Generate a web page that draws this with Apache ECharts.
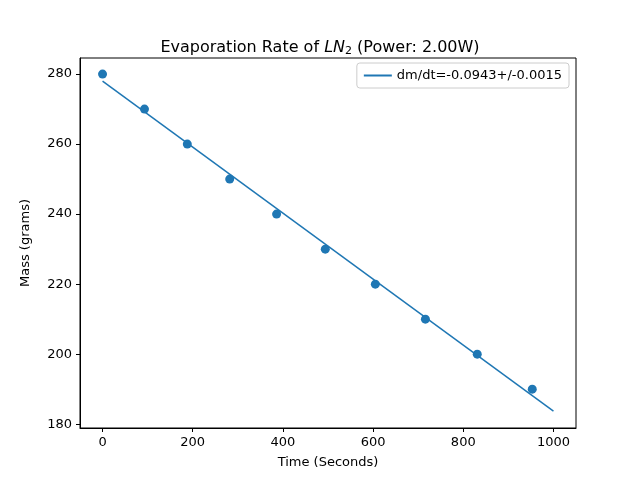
<!DOCTYPE html>
<html>
<head>
  <meta charset="utf-8">
</head>
<body style="height: 100%; margin: 0">
  <div id="container" style="width: 640px; height: 480px"></div>
  <script src="https://cdn.jsdelivr.net/npm/echarts@6/dist/echarts.min.js"></script>
  <script>
    // measured points
    var times = [0, 93, 188, 282, 386, 494, 605, 716, 831, 953];
    var masses = [280, 270, 260, 250, 240, 230, 220, 210, 200, 190];
    // fitted line end points
    var fitX = [0, 1000];
    var fitY = [278.0, 183.7];
    var xTicks = [0, 200, 400, 600, 800, 1000];
    var yTicks = [180, 200, 220, 240, 260, 280];

    var chart = echarts.init(document.getElementById('container'));
    var font = 'DejaVu Sans';
    var blue = '#1f77b4';

    var option = {
      animation: false,
      textStyle: { fontFamily: font },
      title: {
        text: '{n|Evaporation Rate of }{i|LN}{s|2}{n| (Power: 2.00W)}',
        left: 'center',
        top: 33,
        textStyle: {
          fontWeight: 'normal',
          rich: {
            n: { fontFamily: font, fontSize: 16, fontWeight: 'normal', color: '#000' },
            i: { fontFamily: font, fontSize: 16, fontWeight: 'normal', fontStyle: 'italic', color: '#000' },
            s: { fontFamily: font, fontSize: 11, fontWeight: 'normal', color: '#000', padding: [8, 0, 0, 0] }
          }
        }
      },
      legend: {
        data: [{ name: 'dm/dt=-0.0943+/-0.0015', icon: 'rect' }],
        right: 71,
        top: 63,
        itemWidth: 28,
        itemHeight: 2,
        itemGap: 8,
        padding: [6, 7],
        borderColor: '#ccc',
        borderWidth: 1,
        borderRadius: 3,
        textStyle: { fontFamily: font, fontSize: 13, color: '#000' }
      },
      grid: {
        left: 80, right: 64, top: 58, bottom: 52,
        show: true, borderColor: '#000', borderWidth: 1
      },
      xAxis: {
        type: 'value',
        min: -50, max: 1050,
        name: 'Time (Seconds)',
        nameLocation: 'middle',
        nameGap: 28,
        nameTextStyle: { fontFamily: font, fontSize: 13, color: '#000' },
        splitLine: { show: false },
        axisLine: { onZero: false, lineStyle: { color: '#000' } },
        axisTick: { customValues: xTicks, length: 4, lineStyle: { color: '#000' } },
        axisLabel: {
          customValues: xTicks, fontFamily: font, fontSize: 13, color: '#000',
          formatter: function (v) { return String(v); }
        }
      },
      yAxis: {
        type: 'value',
        min: 178.9, max: 284.6,
        name: 'Mass (grams)',
        nameLocation: 'middle',
        nameGap: 48,
        nameTextStyle: { fontFamily: font, fontSize: 13, color: '#000' },
        splitLine: { show: false },
        axisLine: { show: true, onZero: false, lineStyle: { color: '#000' } },
        axisTick: { show: true, customValues: yTicks, length: 4, lineStyle: { color: '#000' } },
        axisLabel: {
          customValues: yTicks, fontFamily: font, fontSize: 13, color: '#000',
          formatter: function (v) { return String(v); }
        }
      },
      series: [
        {
          type: 'scatter',
          data: times.map(function (t, i) { return [t, masses[i]]; }),
          symbolSize: 9,
          itemStyle: { color: blue, opacity: 1 }
        },
        {
          name: 'dm/dt=-0.0943+/-0.0015',
          type: 'line',
          data: fitX.map(function (t, i) { return [t, fitY[i]]; }),
          showSymbol: false,
          lineStyle: { color: blue, width: 1.5 },
          itemStyle: { color: blue }
        }
      ]
    };
    chart.setOption(option);
  </script>
</body>
</html>
